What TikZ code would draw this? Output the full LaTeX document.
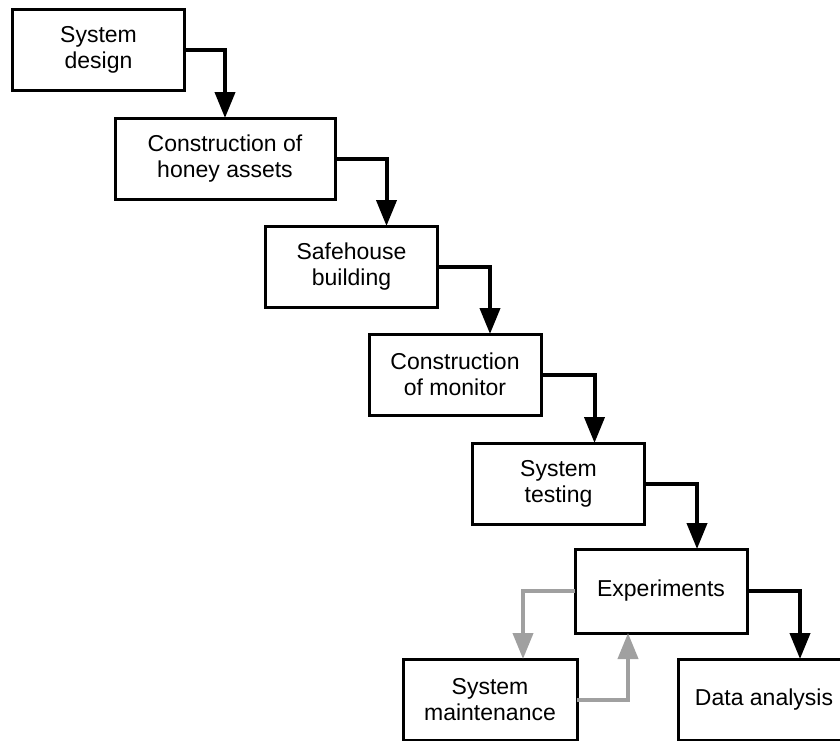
\documentclass[tikz,border=0pt]{standalone}
\usepackage{fontspec}
\setmainfont{Liberation Sans}
\usetikzlibrary{arrows.meta,positioning}
\definecolor{loopgray}{RGB}{160,160,160}

\begin{document}
\begin{tikzpicture}[
    x=1pt, y=1pt,
    node distance=27pt,
    stage/.style={draw, line width=3pt, outer sep=0pt, fill=white, minimum width=172pt, minimum height=81pt, align=center, inner sep=2pt, font=\fontsize{23}{26}\selectfont},
    arrow/.style={-{Triangle[length=26pt,width=20pt]}, line width=4pt},
    back/.style={arrow, color=loopgray}
]
\useasboundingbox (0,0) rectangle (840,-740);
\clip (0,0) rectangle (840,-740);
\node (design) [stage] at (98.5,-49.5) {System\\design};
\node (honey) [stage, minimum width=220pt, below=28pt of design, xshift=126.5pt] {Construction of\\honey assets};
\node (safehouse) [stage, below=of honey, xshift=126.5pt] {Safehouse\\building};
\node (monitor) [stage, below=of safehouse, xshift=103.5pt] {Construction\\of monitor};
\node (testing) [stage, below=28pt of monitor, xshift=103.5pt] {System\\testing};
\node (exper) [stage, minimum height=84pt, below=25pt of testing, xshift=102.5pt] {Experiments};
\node (maint) [stage, minimum width=174pt, below=26pt of exper, xshift=-171pt] {System\\maintenance};
\node (analysis) [stage, below=26pt of exper, xshift=103pt] {Data analysis};
% main flow
\draw [arrow] (design.east) -| (honey.north);
\draw [arrow] (honey.east) -| ([xshift=35pt]safehouse.north);
\draw [arrow] (safehouse.east) -| ([xshift=35pt]monitor.north);
\draw [arrow] (monitor.east) -| ([xshift=36pt]testing.north);
\draw [arrow] (testing.east) -| ([xshift=36pt]exper.north);
\draw [arrow] (exper.east) -| ([xshift=36pt]analysis.north);
% maintenance loop
\draw [back] (exper.west) -| ([xshift=33pt]maint.north);
\draw [back] (maint.east) -| ([xshift=-33pt]exper.south);
\end{tikzpicture}
\end{document}
